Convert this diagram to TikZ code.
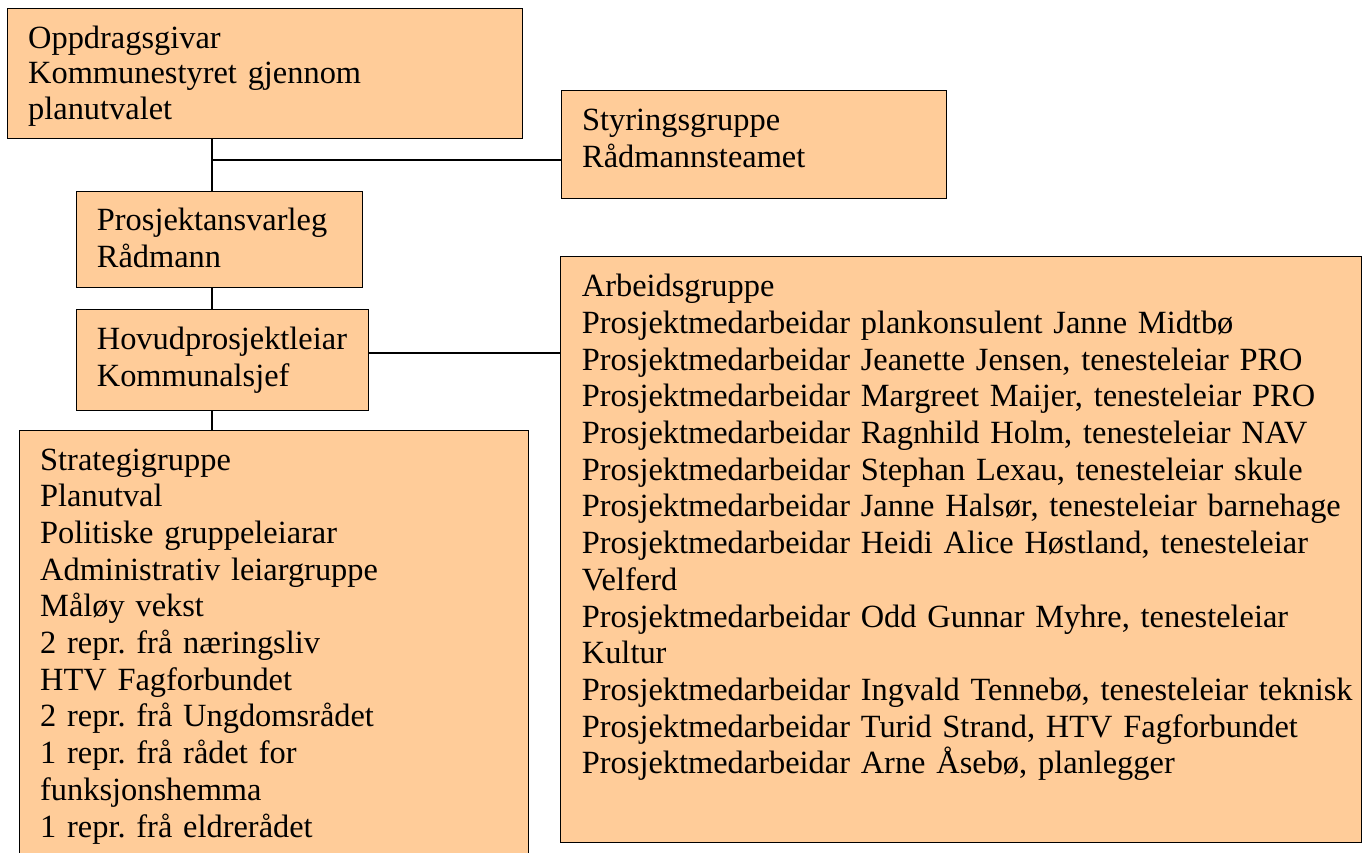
\documentclass[tikz,border=0pt]{standalone}
\usepackage{fontspec}
\setmainfont{Liberation Serif}
\frenchspacing
\definecolor{boxfill}{HTML}{FFCC99}
\begin{document}
\begin{tikzpicture}[x=1pt,y=-1pt,
  orgbox/.style={draw=black, line width=1.4pt, fill=boxfill, rectangle, inner sep=0pt, anchor=north west},
  orgtext/.style={anchor=base west, inner sep=0pt, align=left, text width=#1, font=\fontsize{32.4}{36.7}\selectfont},
  link/.style={draw=black, line width=1.3pt}]
\useasboundingbox (0,0) rectangle (1369,852);
\clip (0,0) rectangle (1369,852);
% boxes
\node[orgbox, minimum width=515pt, minimum height=130pt] (opp) at (7,8) {};
\node[orgbox, minimum width=385pt, minimum height=108pt] (sty) at (561,90) {};
\node[orgbox, minimum width=286pt, minimum height=96pt] (prj) at (76,191) {};
\node[orgbox, minimum width=292pt, minimum height=101pt] (hov) at (76,309) {};
\node[orgbox, minimum width=509pt, minimum height=500pt] (str) at (19,430) {};
\node[orgbox, minimum width=801pt, minimum height=586pt] (arb) at (560,256) {};
% texts
\node[orgtext=490pt, font=\fontsize{32.4}{35.7}\selectfont] (opptxt) at (28,48) {Oppdragsgivar\\Kommunestyret gjennom\\planutvalet};
\node[orgtext=360pt, font=\fontsize{32.4}{37.7}\selectfont] (stytxt) at (582,130) {Styringsgruppe\\Rådmannsteamet};
\node[orgtext=260pt] (prjtxt) at (96.7,230.7) {Prosjektansvarleg\\Rådmann};
\node[orgtext=270pt, font=\fontsize{32.4}{37}\selectfont] (hovtxt) at (96.7,349) {Hovudprosjektleiar\\Kommunalsjef};
\node[orgtext=480pt] (strtxt) at (40,470) {Strategigruppe\\Planutval\\Politiske gruppeleiarar\\Administrativ leiargruppe\\Måløy vekst\\2 repr. frå næringsliv\\HTV Fagforbundet\\2 repr. frå Ungdomsrådet\\1 repr. frå rådet for\\funksjonshemma\\1 repr. frå eldrerådet};
\node[orgtext=790pt] (arbtxt) at (581.7,296.7) {Arbeidsgruppe\\Prosjektmedarbeidar plankonsulent Janne Midtbø\\Prosjektmedarbeidar Jeanette Jensen, tenesteleiar PRO\\Prosjektmedarbeidar Margreet Maijer, tenesteleiar PRO\\Prosjektmedarbeidar Ragnhild Holm, tenesteleiar NAV\\Prosjektmedarbeidar Stephan Lexau, tenesteleiar skule\\Prosjektmedarbeidar Janne Halsør, tenesteleiar barnehage\\Prosjektmedarbeidar Heidi Alice Høstland, tenesteleiar\\Velferd\\Prosjektmedarbeidar Odd Gunnar Myhre, tenesteleiar\\Kultur\\Prosjektmedarbeidar Ingvald Tennebø, tenesteleiar teknisk\\Prosjektmedarbeidar Turid Strand, HTV Fagforbundet\\Prosjektmedarbeidar Arne Åsebø, planlegger};
% connectors
\coordinate (j1) at (212,160);
\coordinate (j2) at (368,353);
\draw[link] (opp.south -| j1) -- (prj.north -| j1);
\draw[link] (j1) -- (sty.west |- j1);
\draw[link] (prj.south -| j1) -- (hov.north -| j1);
\draw[link] (hov.south -| j1) -- (str.north -| j1);
\draw[link] (hov.east |- j2) -- (arb.west |- j2);
\end{tikzpicture}
\end{document}
